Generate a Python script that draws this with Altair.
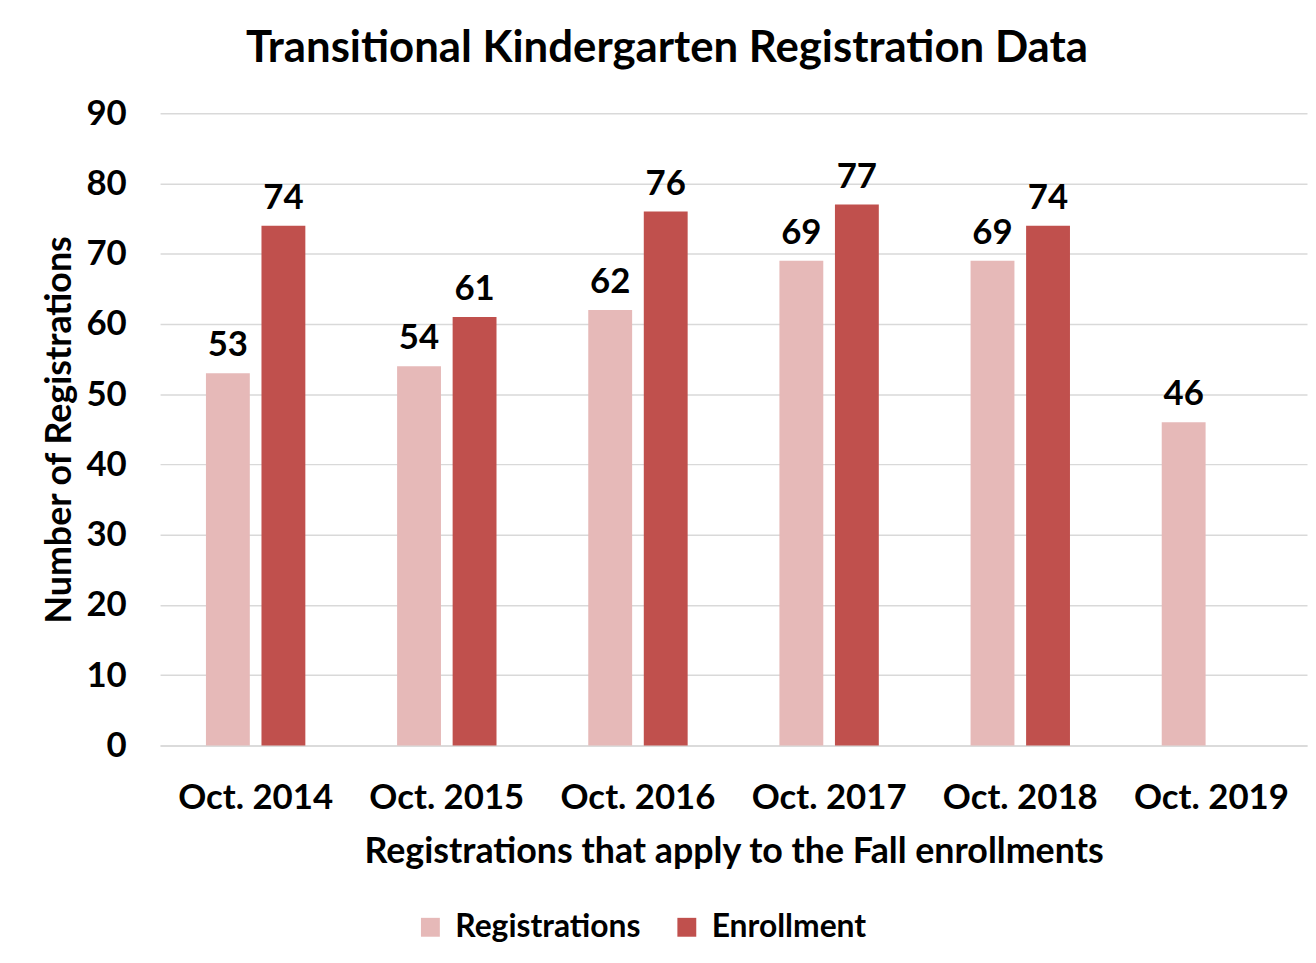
import altair as alt
import pandas as pd

categories = ["Oct. 2014", "Oct. 2015", "Oct. 2016", "Oct. 2017", "Oct. 2018", "Oct. 2019"]
registrations = [53, 54, 62, 69, 69, 46]
enrollment = [74, 61, 76, 77, 74, None]
series = ["Registrations", "Enrollment"]
colors = ["#E6B9B8", "#C0504D"]

rows = []
for c, r, e in zip(categories, registrations, enrollment):
    rows.append({"period": c, "series": series[0], "value": r})
    if e is not None:
        rows.append({"period": c, "series": series[1], "value": e})
df = pd.DataFrame(rows)

FONT = "Lato"

x = alt.X("period:N", sort=categories,
          scale=alt.Scale(paddingInner=0.48, paddingOuter=0.24),
          axis=alt.Axis(title="Registrations that apply to the Fall enrollments",
                        labelAngle=0, labelFontSize=35, labelFont=FONT, labelFontWeight="bold",
                        labelColor="black", labelPadding=35, ticks=False, grid=False,
                        domainColor="#d9d9d9", domainWidth=1.5,
                        titleFontSize=36, titleFont=FONT, titleFontWeight="bold",
                        titleColor="black", titlePadding=20))
xo = alt.XOffset("series:N", sort=series, scale=alt.Scale(paddingInner=0.21, paddingOuter=0))
y = alt.Y("value:Q", scale=alt.Scale(domain=[0, 90]),
          axis=alt.Axis(title="Number of Registrations", values=list(range(0, 91, 10)),
                        labelFontSize=35, labelFont=FONT, labelFontWeight="bold",
                        labelColor="black", labelPadding=34, ticks=False, domain=False,
                        gridColor="#d9d9d9", gridWidth=1.5,
                        titleFontSize=36, titleFont=FONT, titleFontWeight="bold",
                        titleColor="black", titlePadding=8))
color = alt.Color("series:N", sort=series,
                  scale=alt.Scale(domain=series, range=colors),
                  legend=alt.Legend(title=None, orient="none", direction="horizontal",
                                    legendX=256, legendY=803, symbolType="square",
                                    symbolSize=361, symbolStrokeWidth=0, symbolOpacity=1,
                                    labelFontSize=32, labelFont=FONT, labelFontWeight="bold",
                                    labelColor="black", labelOffset=9, labelLimit=0,
                                    columnPadding=30))

bars = alt.Chart(df).mark_bar(opacity=1).encode(x=x, xOffset=xo, y=y, color=color)
labels = alt.Chart(df).mark_text(dy=-17, baseline="alphabetic", fontSize=35, font=FONT,
                                 fontWeight="bold", color="black").encode(
    x=alt.X("period:N", sort=categories),
    xOffset=alt.XOffset("series:N", sort=series),
    y=alt.Y("value:Q"), text="value:Q")

chart = alt.layer(bars, labels).properties(
    width=1154, height=636,
    background="white",
    autosize=alt.AutoSizeParams(type="none"),
    padding={"left": 153, "top": 103, "right": 1, "bottom": 216},
    title=alt.TitleParams("Transitional Kindergarten Registration Data", fontSize=44,
                          font=FONT, fontWeight="bold", color="black", anchor="middle",
                          dx=-67, offset=26),
).configure_view(stroke=None)

chart.save("out.html", embed_options={"renderer": "svg", "actions": False})
